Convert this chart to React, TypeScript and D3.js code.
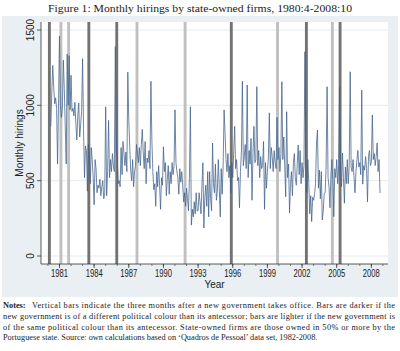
import React from 'react';
import * as d3 from 'd3';

// monthly hirings, first row starts 1980:4, last row ends 2008:10
const startYear = 1980;
const startMonth = 4;
const hiringsByYear: number[][] = [
  [860, 1080, 1265, 1120, 1010, 1050, 980, 610, 1010],
  [1460, 1000, 920, 980, 1300, 1110, 860, 610, 1340, 1000, 1330, 970],
  [1200, 960, 980, 930, 1020, 880, 770, 930, 1015, 790, 870, 960],
  [1310, 840, 520, 730, 700, 430, 740, 690, 480, 720, 640, 520],
  [340, 640, 580, 420, 470, 450, 510, 400, 460, 500, 380, 420],
  [990, 400, 560, 900, 520, 640, 560, 680, 600, 560, 1390, 700],
  [660, 480, 500, 460, 720, 540, 760, 680, 600, 690, 560, 1220],
  [900, 720, 570, 500, 640, 460, 560, 600, 740, 680, 620, 720],
  [600, 740, 840, 690, 580, 760, 480, 650, 620, 700, 580, 1160],
  [760, 560, 440, 480, 330, 560, 460, 600, 470, 310, 520, 470],
  [725, 560, 620, 400, 510, 600, 410, 560, 480, 620, 540, 600],
  [970, 620, 560, 520, 410, 580, 490, 560, 470, 360, 420, 330],
  [450, 380, 300, 520, 990, 205, 310, 260, 360, 280, 420, 300],
  [300, 420, 360, 280, 470, 620, 186, 390, 470, 330, 560, 260],
  [560, 380, 300, 750, 480, 420, 610, 370, 430, 640, 450, 260],
  [580, 410, 600, 970, 810, 640, 560, 680, 520, 600, 420, 620],
  [520, 700, 860, 580, 640, 500, 520, 320, 560, 690, 1160, 600],
  [660, 740, 580, 1135, 520, 700, 610, 780, 370, 680, 860, 620],
  [640, 1124, 600, 700, 520, 660, 580, 600, 760, 310, 620, 450],
  [560, 650, 950, 580, 720, 660, 560, 700, 620, 580, 920, 640],
  [720, 560, 680, 1157, 640, 790, 600, 393, 958, 520, 610, 285],
  [480, 560, 400, 620, 680, 520, 470, 610, 737, 540, 700, 480],
  [620, 520, 600, 1356, 560, 420, 640, 480, 280, 400, 228, 390],
  [370, 410, 480, 750, 836, 450, 570, 380, 560, 239, 300, 416],
  [420, 597, 1124, 520, 460, 320, 540, 640, 500, 261, 580, 520],
  [640, 480, 600, 1124, 560, 460, 683, 520, 350, 590, 480, 640],
  [480, 600, 1223, 590, 560, 640, 520, 420, 560, 640, 700, 590],
  [620, 540, 1101, 477, 600, 570, 660, 580, 360, 660, 700, 600],
  [620, 936, 640, 680, 600, 660, 750, 560, 640, 418],
];

// new governments: [year, month]
const darkBars = [[1980, 1], [1983, 6], [1985, 11], [1995, 10], [2002, 4], [2005, 3]];
const lightBars = [[1981, 1], [1981, 9], [1987, 8], [1991, 10], [1999, 10], [2004, 7]];

const yTicks = [0, 500, 1000, 1500];
const xTickYears = [1981, 1984, 1987, 1990, 1993, 1996, 1999, 2002, 2005, 2008];
const minorYears = d3.range(1980, 2010);

const title = 'Figure 1: Monthly hirings by state-owned firms, 1980:4-2008:10';
const noteLines = [
  'Vertical bars indicate the three months after a new government takes office.  Bars are darker if the',
  'new government is of a different political colour than its antecessor; bars are lighter if the new government is',
  'of the same political colour than its antecessor.  State-owned firms are those owned in 50% or more by the',
  'Portuguese state. Source: own calculations based on \u2018Quadros de Pessoal\u2019 data set, 1982-2008.',
];

const W = 400;
const H = 351;
const plot = { left: 41, right: 388, top: 22, bottom: 264 };
const sans = 'Liberation Sans, Arial, sans-serif';
const serif = 'Liberation Serif, Times New Roman, serif';

const monthT = (y: number, m: number) => y + (m - 1) / 12;

export default function App() {
  const x = d3.scaleLinear().domain([1979.4, 2009.44]).range([plot.left, plot.right]);
  const y = d3.scaleLinear().domain([0, 1500]).range([256, 30]);

  const points: [number, number][] = [];
  hiringsByYear.forEach((row, yi) => {
    row.forEach((v, mi) => {
      const m = yi === 0 ? startMonth + mi : mi + 1;
      points.push([monthT(startYear + yi, m), v]);
    });
  });

  const line = d3.line<[number, number]>()
    .x(d => x(d[0]))
    .y(d => y(d[1]));

  const bar = (b: number[], fill: string, key: string) => {
    const t0 = monthT(b[0], b[1]);
    return (
      <rect key={key} x={x(t0)} y={plot.top} width={x(t0 + 0.25) - x(t0)}
        height={plot.bottom - plot.top} fill={fill} />
    );
  };

  return (
    <svg width={W} height={H} style={{ position: 'absolute', left: 0, top: 0, background: '#fff' }}>
      <text x={200} y={12} textAnchor="middle" fontFamily={serif} fontSize={11}
        textLength={304} lengthAdjust="spacingAndGlyphs" fill="#222">{title}</text>

      <rect x={2} y={16} width={396} height={281} fill="#e9eff3" />
      <rect x={plot.left} y={plot.top} width={plot.right - plot.left} height={plot.bottom - plot.top} fill="#fff" />

      {yTicks.map(t => (
        <line key={'g' + t} x1={plot.left} x2={plot.right} y1={y(t)} y2={y(t)} stroke="#e6ebee" strokeWidth={1} />
      ))}

      {darkBars.map((b, i) => bar(b, '#737373', 'd' + i))}
      {lightBars.map((b, i) => bar(b, '#c0c0c0', 'l' + i))}

      <path d={line(points) || ''} fill="none" stroke="#3f6088" strokeWidth={0.75} strokeLinejoin="round" />

      {/* axes */}
      <line x1={plot.left} x2={plot.left} y1={plot.top} y2={plot.bottom} stroke="#333" strokeWidth={0.8} />
      <line x1={plot.left} x2={plot.right} y1={plot.bottom} y2={plot.bottom} stroke="#333" strokeWidth={0.8} />

      {yTicks.map(t => (
        <g key={'yt' + t}>
          <line x1={plot.left - 4} x2={plot.left} y1={y(t)} y2={y(t)} stroke="#333" strokeWidth={0.8} />
          <text transform={`translate(34,${y(t)}) rotate(-90)`} textAnchor="middle" fontFamily={sans}
            fontSize={10} fill="#222">{t}</text>
        </g>
      ))}

      {minorYears.map(yr => (
        <line key={'mt' + yr} x1={x(yr)} x2={x(yr)} y1={plot.bottom} y2={plot.bottom + 2} stroke="#333" strokeWidth={0.6} />
      ))}
      {xTickYears.map(yr => (
        <g key={'xt' + yr}>
          <line x1={x(yr)} x2={x(yr)} y1={plot.bottom} y2={plot.bottom + 4} stroke="#333" strokeWidth={0.8} />
          <text x={x(yr)} y={277} textAnchor="middle" fontFamily={sans} fontSize={10}
            textLength={17} lengthAdjust="spacingAndGlyphs" fill="#222">{yr}</text>
        </g>
      ))}

      <text x={(plot.left + plot.right) / 2} y={288} textAnchor="middle" fontFamily={sans} fontSize={10} fill="#222">Year</text>
      <text transform={`translate(23,${(plot.top + plot.bottom) / 2}) rotate(-90)`} textAnchor="middle"
        fontFamily={sans} fontSize={10} fill="#222">Monthly hirings</text>

      {/* notes */}
      <text x={3} y={308} fontFamily={serif} fontSize={8.3} fontWeight="bold" fill="#222">Notes:</text>
      {noteLines.map((s, i) => (
        <text key={'n' + i} x={i === 0 ? 32 : 3} y={308 + i * 10.8} fontFamily={serif} fontSize={8.3} fill="#222"
          textLength={i === 3 ? undefined : (i === 0 ? 363 : 392)} lengthAdjust="spacing">{s}</text>
      ))}
    </svg>
  );
}
